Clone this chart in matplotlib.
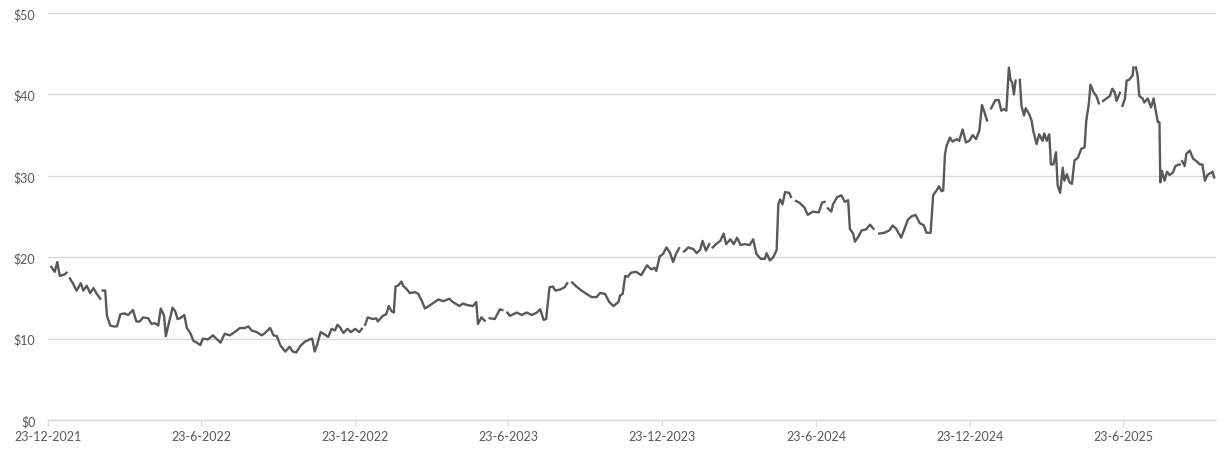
import numpy as np
import pandas as pd
import matplotlib
matplotlib.use("Agg")
import matplotlib.pyplot as plt

start_date = "2021-12-23"
# days after start_date (NaN values mark gaps in the series)
days = [4, 8, 11, 14, 20, 22, 24, 26, 30, 34, 39, 42, 46, 50, 54, 58, 62, 63, 65, 68, 70, 74, 78, 82, 86, 91, 95,
        101, 105, 109, 113, 119, 123, 127, 131, 134, 138, 140, 143, 148, 151, 154, 157, 162, 165, 169, 173, 177,
        181, 184, 190, 196, 200, 205, 210, 216, 222, 228, 234, 238, 242, 248, 254, 258, 264, 268, 272, 276, 282,
        287, 291, 295, 300, 305, 311, 314, 317, 320, 324, 329, 333, 337, 341, 344, 347, 351, 356, 360, 365, 370,
        373, 375, 377, 380, 386, 390, 392, 398, 402, 405, 408, 411, 413, 416, 420, 422, 426, 430, 436, 440, 444,
        448, 454, 464, 470, 477, 481, 489, 493, 499, 505, 509, 511, 515, 519, 522, 525, 531, 537, 540, 543, 546,
        549, 557, 563, 569, 575, 581, 585, 589, 592, 596, 600, 603, 608, 614, 617, 620, 623, 628, 634, 640, 646,
        652, 656, 662, 667, 672, 678, 680, 683, 686, 689, 693, 699, 705, 712, 717, 721, 723, 727, 731, 735, 739,
        743, 746, 750, 753, 756, 761, 767, 771, 775, 778, 782, 786, 788, 790, 795, 799, 803, 806, 811, 815, 819,
        823, 828, 834, 838, 842, 847, 852, 854, 858, 862, 866, 868, 870, 873, 876, 881, 883, 886, 889, 893, 899,
        903, 909, 916, 920, 923, 925, 927, 931, 933, 938, 943, 947, 951, 953, 957, 959, 963, 967, 972, 977, 981,
        984, 988, 994, 1000, 1004, 1008, 1014, 1018, 1022, 1026, 1031, 1036, 1041, 1044, 1049, 1052, 1056, 1059,
        1062, 1064, 1066, 1068, 1072, 1075, 1080, 1083, 1087, 1091, 1095, 1099, 1103, 1107, 1110, 1113, 1116,
        1118, 1121, 1126, 1130, 1133, 1136, 1139, 1142, 1144, 1146, 1148, 1150, 1152, 1155, 1157, 1160, 1162,
        1166, 1169, 1171, 1175, 1178, 1182, 1184, 1187, 1190, 1192, 1195, 1198, 1200, 1203, 1206, 1208, 1211,
        1214, 1217, 1220, 1224, 1228, 1232, 1234, 1237, 1239, 1243, 1246, 1249, 1251, 1254, 1258, 1262, 1265,
        1268, 1270, 1274, 1275, 1277, 1280, 1282, 1285, 1289, 1290, 1291, 1293, 1295, 1297, 1301, 1303, 1307,
        1311, 1314, 1317, 1319, 1321, 1322, 1324, 1327, 1330, 1333, 1337, 1340, 1345, 1346, 1348, 1351, 1353,
        1357, 1361, 1365, 1369, 1372, 1375, 1378, 1384, 1386]
nan = float("nan")
price = [18.8, 18.2, 19.4, 17.7, 17.9, 18.1, nan, 17.4, 16.7, 15.9, 16.8, 15.9, 16.5, 15.6, 16.2, 15.5, 14.9, nan,
         15.9, 15.9, 12.8, 11.6, 11.5, 11.5, 13.0, 13.1, 12.9, 13.5, 12.1, 12.1, 12.6, 12.5, 11.8, 11.9, 11.6, 13.7,
         12.8, 10.3, 11.6, 13.8, 13.4, 12.4, 12.5, 12.9, 11.3, 10.7, 9.7, 9.5, 9.2, 10.0, 9.9, 10.4, 10.0, 9.5, 10.6,
         10.4, 10.8, 11.3, 11.3, 11.5, 11.0, 10.8, 10.4, 10.7, 11.3, 10.4, 10.3, 9.2, 8.4, 9.0, 8.4, 8.3, 9.1, 9.6,
         9.9, 10.0, 8.4, 9.3, 10.8, 10.5, 10.2, 11.2, 11.0, 11.7, 11.4, 10.7, 11.2, 10.8, 11.2, 10.8, 11.2, nan, 11.7,
         12.6, 12.4, 12.5, 12.1, 12.8, 13.0, 14.0, 13.4, 13.2, 16.4, 16.5, 17.0, 16.5, 16.1, 15.6, 15.7, 15.5, 14.7,
         13.7, 14.1, 14.8, 14.6, 14.9, 14.5, 14.0, 14.3, 14.1, 14.0, 14.5, 11.8, 12.6, 12.2, nan, 12.5, 12.4, 13.6,
         13.5, nan, 13.2, 12.8, 13.2, 12.9, 13.2, 12.9, 13.2, 13.6, 12.3, 12.4, 16.3, 16.4, 15.9, 16.0, 16.3, 16.8,
         nan, 16.9, 16.4, 15.9, 15.5, 15.1, 15.1, 15.6, 15.5, 14.5, 14.0, 14.5, 15.3, 15.5, 17.7, 17.6, 18.1, 18.2,
         17.8, 19.0, 18.5, 18.7, 18.3, 20.1, 20.4, 21.2, 20.6, 19.4, 20.3, 21.1, nan, 20.7, 21.2, 21.0, 20.5, 20.9,
         22.0, 20.8, 21.6, nan, 21.2, 21.7, 22.0, 22.9, 21.6, 22.2, 21.6, 22.4, 21.5, 21.6, 21.5, 22.2, 20.4, 19.8,
         19.8, 20.5, 19.6, 20.0, 20.9, 26.5, 27.1, 26.5, 28.0, 27.9, 27.4, nan, 26.9, 26.7, 26.1, 25.2, 25.6, 25.5,
         26.7, 26.8, nan, 26.0, 25.6, 26.5, 27.4, 27.6, 26.8, 27.0, 23.5, 22.9, 21.9, 22.5, 23.3, 23.4, 24.0, 23.5,
         nan, 22.9, 23.0, 23.3, 23.9, 23.5, 22.4, 23.5, 24.6, 25.0, 25.2, 24.2, 23.9, 23.0, 23.0, 27.6, 28.2, 28.7,
         28.1, 28.2, 32.6, 33.7, 34.7, 34.2, 34.5, 34.3, 35.7, 34.1, 34.3, 35.0, 34.5, 35.6, 38.7, 37.8, 36.8, nan,
         38.3, 39.3, 39.3, 38.0, 38.2, 38.0, 43.3, 41.8, 41.4, 40.0, 41.7, nan, 41.8, 38.6, 37.4, 38.3, 37.6, 36.8,
         35.5, 33.9, 35.1, 34.3, 35.2, 34.3, 35.1, 31.4, 31.4, 32.9, 28.8, 27.9, 31.0, 29.4, 30.2, 29.2, 29.0, 31.9,
         32.2, 33.3, 33.5, 36.8, 38.8, 41.2, 40.2, 39.8, 38.9, nan, 39.2, 39.5, 39.8, 40.7, 40.2, 39.2, 40.2, nan,
         38.6, 39.5, 41.7, 41.8, 42.3, 43.3, nan, 43.3, 42.3, 39.8, 39.5, 39.0, 39.5, 38.4, 39.5, 37.8, 36.6, 36.6,
         29.2, 30.6, 29.4, 30.5, 30.1, 30.4, 31.2, 31.4, nan, 31.8, 31.2, 32.7, 33.1, 32.1, 31.8, 31.4, 31.4, 29.4,
         30.1, 30.5, 29.8]

tick_dates = ["2021-12-23", "2022-06-23", "2022-12-23", "2023-06-23", "2023-12-23",
              "2024-06-23", "2024-12-23", "2025-06-23"]
tick_labels = ["23-12-2021", "23-6-2022", "23-12-2022", "23-6-2023", "23-12-2023",
               "23-6-2024", "23-12-2024", "23-6-2025"]
y_ticks = [0, 10, 20, 30, 40, 50]
y_labels = ["$0", "$10", "$20", "$30", "$40", "$50"]

plt.rcParams['font.family'] = ['Lato', 'DejaVu Sans']

dates = pd.to_datetime(start_date) + pd.to_timedelta(days, unit="D")
s = pd.Series(price, index=dates)

fig = plt.figure(figsize=(12.28, 4.52), dpi=100)
ax = fig.add_axes([0.0391, 0.0686, 0.9510, 0.9004])

ax.plot(s.index, s.values, color="#595959", lw=1.7, solid_joinstyle="round")

ax.set_ylim(0, 50)
ax.set_yticks(y_ticks)
ax.set_yticklabels(y_labels)
ax.set_xlim(pd.to_datetime(start_date), pd.to_datetime(start_date) + pd.Timedelta(days=1388))
ax.set_xticks(pd.to_datetime(tick_dates))
ax.set_xticklabels(tick_labels)

ax.grid(axis="y", color="#d9d9d9", lw=1)
ax.set_axisbelow(True)
for sp in ["top", "right", "left"]:
    ax.spines[sp].set_visible(False)
ax.spines["bottom"].set_color("#d9d9d9")
ax.spines["bottom"].set_linewidth(1)
ax.tick_params(axis="y", length=0, pad=9, labelsize=9, labelcolor="#595959")
ax.tick_params(axis="x", length=4, color="#d9d9d9", pad=3, labelsize=9, labelcolor="#595959")

fig.savefig("out.png", dpi=100)
